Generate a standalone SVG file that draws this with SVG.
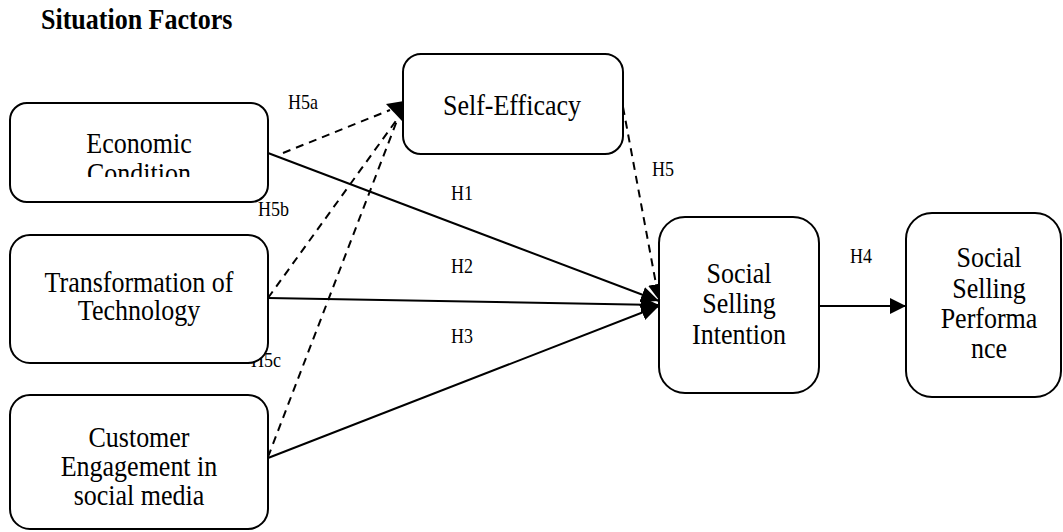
<svg xmlns="http://www.w3.org/2000/svg" width="1063" height="532" viewBox="0 0 1063 532">
<style>
.box{fill:#fff;stroke:#000;stroke-width:2}
.t{font-family:"Liberation Serif","Times New Roman",serif;font-size:26px;fill:#000;text-anchor:middle}
.lbl{font-family:"Liberation Serif","Times New Roman",serif;font-size:18px;fill:#000}
.ttl{font-family:"Liberation Serif","Times New Roman",serif;font-size:26px;font-weight:bold;fill:#000}
.ln{stroke:#000;stroke-width:2;fill:none}
.dash{stroke:#000;stroke-width:2;fill:none;stroke-dasharray:8,6}
</style>
<defs>
<marker id="ah" markerUnits="userSpaceOnUse" markerWidth="20" markerHeight="16" refX="18" refY="8" orient="auto">
<path d="M0,0 L18,8 L0,16 Z" fill="#000"/>
</marker>
<marker id="ah2" markerUnits="userSpaceOnUse" markerWidth="17" markerHeight="16" refX="16" refY="8" orient="auto">
<path d="M0,0 L16,8 L0,16 Z" fill="#000"/>
</marker>
<clipPath id="clipEcon"><rect x="10" y="103" width="258" height="74"/></clipPath>
</defs>
<rect width="1063" height="532" fill="#fff"/>
<text class="ttl" transform="translate(41 29) scale(1 1.16)">Situation Factors</text>
<g id="connectors">
<line class="dash" x1="283" y1="153" x2="390" y2="110"/>
<line class="dash" x1="268" y1="298" x2="398" y2="118"/>
<line class="dash" x1="268" y1="457" x2="398" y2="118"/>
<polygon points="386,104 404,101 402,121" fill="#000"/>
<line class="ln" x1="268" y1="153" x2="659" y2="301" marker-end="url(#ah)"/>
<line class="ln" x1="268" y1="298" x2="659" y2="305" marker-end="url(#ah)"/>
<line class="ln" x1="268" y1="458" x2="659" y2="306" marker-end="url(#ah)"/>
<line class="dash" x1="623" y1="107" x2="659" y2="300" marker-end="url(#ah2)"/>
<line class="ln" x1="819" y1="306" x2="906" y2="306" marker-end="url(#ah2)"/>
<text class="lbl" transform="translate(288 109) scale(1 1.16)">H5a</text>
<text class="lbl" transform="translate(258 216) scale(1 1.16)">H5b</text>
<text class="lbl" transform="translate(251 367) scale(1 1.16)">H5c</text>
<text class="lbl" transform="translate(451 200) scale(1 1.16)">H1</text>
<text class="lbl" transform="translate(451 273) scale(1 1.16)">H2</text>
<text class="lbl" transform="translate(451 343) scale(1 1.16)">H3</text>
<text class="lbl" transform="translate(652 176) scale(1 1.16)">H5</text>
<text class="lbl" transform="translate(850 263) scale(1 1.16)">H4</text>
</g>
<g id="economic">
<rect class="box" x="10" y="103" width="258" height="99" rx="17"/>
<g clip-path="url(#clipEcon)">
<text class="t" transform="translate(139 153) scale(1 1.16)">Economic</text>
<text class="t" transform="translate(139 183) scale(1 1.16)">Condition</text>
</g>
</g>
<g id="selfefficacy">
<rect class="box" x="403" y="54" width="220" height="100" rx="18"/>
<text class="t" transform="translate(512 115) scale(1 1.16)">Self-Efficacy</text>
</g>
<g id="transformation">
<rect class="box" x="10" y="235" width="258" height="128" rx="20"/>
<text class="t" transform="translate(139 292) scale(1 1.16)">Transformation of</text>
<text class="t" transform="translate(139 320) scale(1 1.16)">Technology</text>
</g>
<g id="customer">
<rect class="box" x="10" y="395" width="258" height="134" rx="20"/>
<text class="t" transform="translate(139 447) scale(1 1.16)">Customer</text>
<text class="t" transform="translate(139 476) scale(1 1.16)">Engagement in</text>
<text class="t" transform="translate(139 505) scale(1 1.16)">social media</text>
</g>
<g id="intention">
<rect class="box" x="659" y="217" width="160" height="176" rx="26"/>
<text class="t" transform="translate(739 283) scale(1 1.16)">Social</text>
<text class="t" transform="translate(739 313) scale(1 1.16)">Selling</text>
<text class="t" transform="translate(739 344) scale(1 1.16)">Intention</text>
</g>
<g id="performance">
<rect class="box" x="906" y="213" width="155" height="184" rx="26"/>
<text class="t" transform="translate(989 267) scale(1 1.16)">Social</text>
<text class="t" transform="translate(989 298) scale(1 1.16)">Selling</text>
<text class="t" transform="translate(989 328) scale(1 1.16)">Performa</text>
<text class="t" transform="translate(989 358) scale(1 1.16)">nce</text>
</g>
</svg>
